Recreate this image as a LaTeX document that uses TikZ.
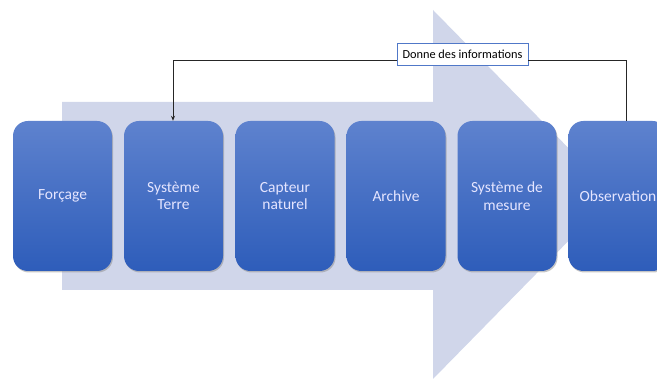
\documentclass[tikz,border=0pt]{standalone}
\usepackage{fontspec}
\setmainfont{Carlito}
\usetikzlibrary{shadows,arrows.meta}
\definecolor{arrowbg}{RGB}{208,214,234}
\definecolor{boxtop}{RGB}{94,130,206}
\definecolor{boxbot}{RGB}{46,93,186}
\definecolor{lblborder}{RGB}{80,120,200}
\tikzset{
  stagebox/.style={rounded corners=15pt, minimum width=99pt, minimum height=150pt,
    top color=boxtop, bottom color=boxbot, draw=none,
    drop shadow={shadow xshift=1pt, shadow yshift=-1.5pt, fill=black!45, opacity=0.5},
    text=white!90!blue, font=\fontsize{15.5}{17.5}\selectfont, align=center, inner sep=2pt},
  lblbox/.style={draw=lblborder, fill=white, line width=0.7pt, minimum width=131pt,
    minimum height=22pt, font=\fontsize{12.3}{14}\selectfont, inner sep=2pt},
  conn/.style={draw=black!85, line width=0.8pt}
}
\begin{document}
\begin{tikzpicture}[x=1pt,y=1pt]
\useasboundingbox (0,0) rectangle (657,379);
\begin{scope}
\clip (0,0) rectangle (657,379);
\fill[arrowbg] (62,277) -- (433,277) -- (433,369) -- (614,184.5) -- (433,0) -- (433,89) -- (62,89) -- cycle;
\node[stagebox] (forcage) at (62.5,183) {Forçage};
\node[stagebox] (terre) at (173.5,183) {Système\\Terre};
\node[stagebox] (capteur) at (285,183) {Capteur\\naturel};
\node[stagebox] (archive) at (396,183) {Archive};
\node[stagebox] (mesure) at (507,183) {Système de\\mesure};
\node[stagebox] (obs) at (618,183) {Observation};
\node[lblbox] (lbl) at (462.5,325) {Donne des informations};
\coordinate (r) at (626,319);
\coordinate (l) at (173,319);
\draw[conn] (obs.north -| r) -- (r) -- (lbl.east |- r);
\draw[conn, -{Stealth[length=5pt,width=4pt]}] (lbl.west |- l) -- (l) -- (terre.north -| l);
\end{scope}
\end{tikzpicture}
\end{document}
